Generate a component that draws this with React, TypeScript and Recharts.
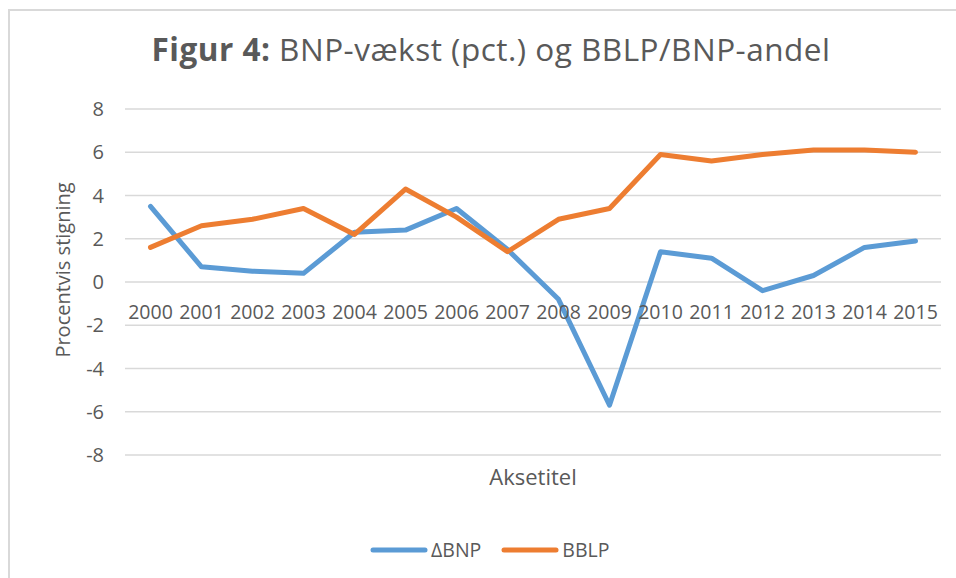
import React from 'react';
import { LineChart, Line, XAxis, YAxis, CartesianGrid, Legend } from 'recharts';

const years = ['2000','2001','2002','2003','2004','2005','2006','2007','2008','2009','2010','2011','2012','2013','2014','2015'];
const bnp = [3.5, 0.7, 0.5, 0.4, 2.3, 2.4, 3.4, 1.5, -0.8, -5.7, 1.4, 1.1, -0.4, 0.3, 1.6, 1.9];
const bblp = [1.6, 2.6, 2.9, 3.4, 2.2, 4.3, 3.0, 1.4, 2.9, 3.4, 5.9, 5.6, 5.9, 6.1, 6.1, 6.0];
const seriesNames = ['ΔBNP', 'BBLP'];
const yTicks = [-8, -6, -4, -2, 0, 2, 4, 6, 8];
const yMin = -8;
const yMax = 8;

const data = years.map((y, i) => ({ year: y, bnp: bnp[i], bblp: bblp[i] }));

const FONT = '"Open Sans", "Noto Sans", sans-serif';
const GREY = '#595959';
const W = 956;
const H = 578;
const M = { top: 109, right: 15, bottom: 113, left: 65 };
const X_AXIS_H = 10;
const plotH = H - M.top - M.bottom - X_AXIS_H;
const zeroShift = plotH * (0 - yMin) / (yMax - yMin);

const XTick = (props: any) => {
  const { x, y, payload } = props;
  return (
    <text x={x} y={y - zeroShift + 15} dy="0.71em" textAnchor="middle" fill={GREY} fontSize={19.5} fontFamily={FONT}>
      {payload.value}
    </text>
  );
};

const YTitle = (props: any) => {
  const vb = props.viewBox || {};
  const cx = vb.x - 3;
  const cy = vb.y + vb.height / 2 - 12;
  return (
    <text x={cx} y={cy} transform={`rotate(-90, ${cx}, ${cy})`} textAnchor="middle" dominantBaseline="central" fill={GREY} fontSize={20} fontFamily={FONT}>
      Procentvis stigning
    </text>
  );
};

const LegendContent = (props: any) => {
  const items = [...(props.payload || [])].sort(
    (a: any, b: any) => seriesNames.indexOf(a.value) - seriesNames.indexOf(b.value)
  );
  return (
    <div style={{ display: 'flex', alignItems: 'center', fontFamily: FONT, fontSize: 19.5, color: GREY }}>
      {items.map((it: any, i: number) => (
        <div key={i} style={{ display: 'flex', alignItems: 'center', marginRight: 20 }}>
          <svg width={58} height={8} style={{ marginRight: 3 }}>
            <line x1={3} y1={4} x2={55} y2={4} stroke={it.color} strokeWidth={5} strokeLinecap="round" />
          </svg>
          <span>{it.value}</span>
        </div>
      ))}
    </div>
  );
};

export default function App() {
  return (
    <div style={{ position: 'absolute', left: 0, top: 0, width: W, height: H, overflow: 'hidden', background: '#fff' }}>
      <div style={{ position: 'absolute', left: 8, top: 9, width: 1000, height: 700, borderTop: '2px solid #d9d9d9', borderLeft: '2px solid #d9d9d9' }} />
      <div style={{ position: 'absolute', left: 0, top: 0 }}>
        <LineChart width={W} height={H} data={data} margin={M}>
          <text x={491} y={61} textAnchor="middle" fill={GREY} fontSize={31.5} letterSpacing={0.5} fontFamily={FONT}>
            <tspan fontWeight="bold">Figur 4:</tspan>
            <tspan> BNP-vækst (pct.) og BBLP/BNP-andel</tspan>
          </text>
          <CartesianGrid horizontal={true} vertical={false} stroke="#d9d9d9" strokeWidth={1.5} />
          <XAxis
            dataKey="year"
            type="category"
            scale="band"
            height={X_AXIS_H}
            axisLine={false}
            tickLine={false}
            interval={0}
            tick={<XTick />}
            label={{ value: 'Aksetitel', position: 'bottom', offset: 4, fill: GREY, fontSize: 22, fontFamily: FONT }}
          />
          <YAxis
            type="number"
            domain={[yMin, yMax]}
            ticks={yTicks}
            interval={0}
            width={60}
            axisLine={false}
            tickLine={false}
            tickSize={0}
            tickMargin={21}
            tick={{ fill: GREY, fontSize: 20, fontFamily: FONT }}
            label={<YTitle />}
          />
          <Legend
            layout="horizontal"
            verticalAlign="middle"
            align="center"
            wrapperStyle={{ left: 370, top: 536, width: 320 }}
            content={<LegendContent />}
          />
          <Line type="linear" dataKey="bnp" name={seriesNames[0]} stroke="#5B9BD5" strokeWidth={5} strokeLinecap="round" strokeLinejoin="round" dot={false} activeDot={false} isAnimationActive={false} />
          <Line type="linear" dataKey="bblp" name={seriesNames[1]} stroke="#ED7D31" strokeWidth={5} strokeLinecap="round" strokeLinejoin="round" dot={false} activeDot={false} isAnimationActive={false} />
        </LineChart>
      </div>
    </div>
  );
}
